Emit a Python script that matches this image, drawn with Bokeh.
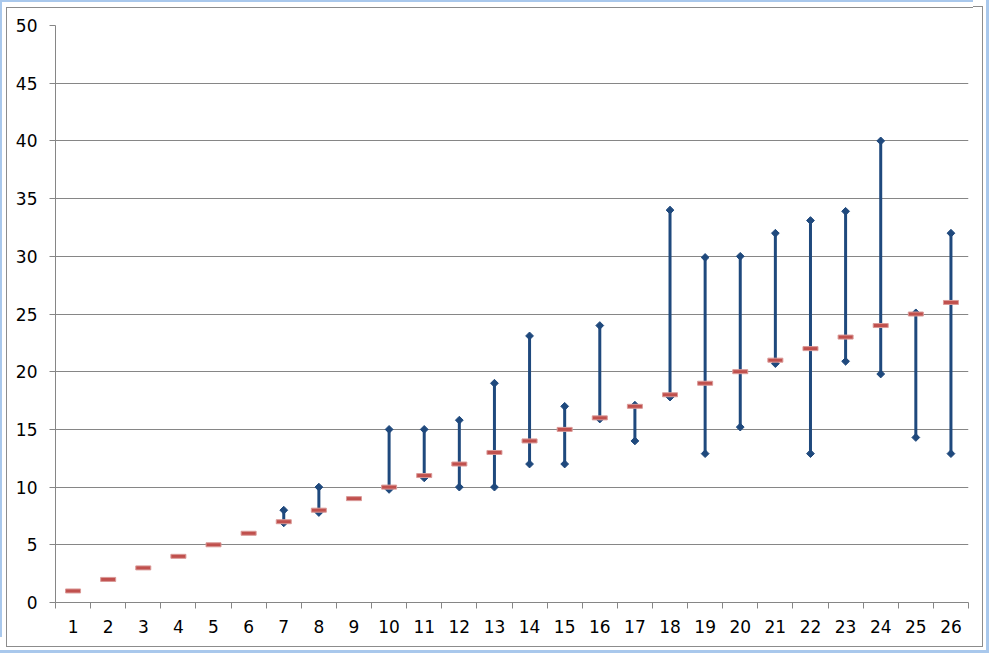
import numpy as np
from bokeh.plotting import figure
from bokeh.models import Range1d, FixedTicker, ColumnDataSource
from bokeh.embed import file_html
from bokeh.resources import INLINE

nan = float("nan")

# ---- data ----
categories = ["1", "2", "3", "4", "5", "6", "7", "8", "9", "10", "11", "12", "13",
              "14", "15", "16", "17", "18", "19", "20", "21", "22", "23", "24", "25", "26"]
mid_values = [1, 2, 3, 4, 5, 6, 7, 8, 9, 10, 11, 12, 13,
              14, 15, 16, 17, 18, 19, 20, 21, 22, 23, 24, 25, 26]
high_values = [nan, nan, nan, nan, nan, nan, 8, 10, nan, 15, 15, 15.8, 19,
               23.1, 17, 24, 17.1, 34, 29.9, 30, 32, 33.1, 33.9, 40, 25.1, 32]
low_values = [nan, nan, nan, nan, nan, nan, 6.9, 7.8, nan, 9.8, 10.8, 10, 10,
              12, 12, 15.9, 14, 17.8, 12.9, 15.2, 20.7, 12.9, 20.9, 19.8, 14.3, 12.9]
y_ticks = [0, 5, 10, 15, 20, 25, 30, 35, 40, 45, 50]

BLUE = "#1F497D"
RED = "#C0504D"
GRID = "#868686"
FRAME = "#8C8C8C"
EDGE = "#A9C8EC"
FONT = "DejaVu Sans"

n = len(categories)
x_pos = [i + 1 for i in range(n)]
boundaries = [i + 0.5 for i in range(n + 1)]

src = ColumnDataSource(dict(x=x_pos, cat=categories, mid=mid_values,
                            high=high_values, low=low_values))

p = figure(width=973, height=637, output_backend="svg", toolbar_location=None,
           x_range=Range1d(0.5, n + 0.5), y_range=Range1d(y_ticks[0], y_ticks[-1]),
           min_border_left=55, min_border_right=5, min_border_top=25, min_border_bottom=35)

p.background_fill_color = "white"
p.border_fill_color = None
p.outline_line_color = None
p.styles = {
    "box-shadow": (
        f"inset 2px 2px 0 0 {EDGE}, inset 6px 7px 0 0 #FFFFFF, inset 7px 8px 0 0 {FRAME}, "
        f"8px 8px 0 1px #FFFFFF, 8px 8px 0 2px {FRAME}, "
        f"0 0 0 13px #FFFFFF, 0 0 0 16px {EDGE}"
    ),
    "background-color": "#FFFFFF",
}

# x axis: labels at category centres, ticks at category boundaries
p.xaxis.ticker = FixedTicker(ticks=x_pos, minor_ticks=boundaries)
p.xaxis.major_label_overrides = {x: c for x, c in zip(x_pos, categories)}
p.xaxis.major_tick_line_color = None
p.xaxis.major_tick_in = 0
p.xaxis.major_tick_out = 0
p.xaxis.minor_tick_line_color = GRID
p.xaxis.minor_tick_in = 0
p.xaxis.minor_tick_out = 6
p.xaxis.major_label_standoff = 11

p.yaxis.ticker = FixedTicker(ticks=y_ticks, minor_ticks=[])
p.yaxis.major_tick_line_color = GRID
p.yaxis.major_tick_in = 0
p.yaxis.major_tick_out = 6
p.yaxis.minor_tick_line_color = None
p.yaxis.major_label_standoff = 12

for ax in (p.xaxis, p.yaxis):
    ax.axis_line_color = GRID
    ax.axis_line_width = 1
    ax.major_label_text_font = FONT
    ax.major_label_text_font_size = "17px"
    ax.major_label_text_color = "#000000"

p.xgrid.visible = False
p.ygrid.ticker = FixedTicker(ticks=y_ticks, minor_ticks=[])
p.ygrid.grid_line_color = GRID
p.ygrid.grid_line_width = 1

# high-low lines
p.segment(x0="x", y0="low", x1="x", y1="high", source=src,
          line_color=BLUE, line_width=3)
p.scatter(x="x", y="high", source=src, marker="square", angle=np.pi / 4,
          size=5.5, fill_color=BLUE, line_color=BLUE, line_width=1)
p.scatter(x="x", y="low", source=src, marker="square", angle=np.pi / 4,
          size=5.5, fill_color=BLUE, line_color=BLUE, line_width=1)

# close / mid markers
p.rect(x="x", y="mid", source=src, width=15, height=4,
       width_units="screen", height_units="screen",
       fill_color=RED, line_color="#DA9A98", line_width=1)

open("out.html", "w").write(file_html(p, INLINE))
